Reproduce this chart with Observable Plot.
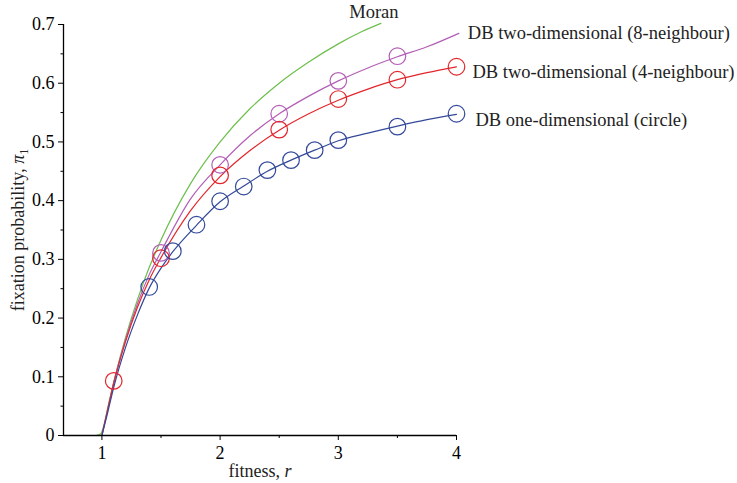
<!DOCTYPE html>
<html>
<head>
<meta charset="utf-8">
<script src="https://cdn.jsdelivr.net/npm/d3@7"></script>
<script src="https://cdn.jsdelivr.net/npm/@observablehq/plot@0.6"></script>
<style>
  html, body { margin: 0; padding: 0; background: #fff; }
</style>
</head>
<body>
<div id="chart"></div>
<script>
// ---- Data ----
const moranR   = [0.95, 0.99, 1.02, 1.05, 1.1, 1.2, 1.3, 1.4, 1.5, 1.75, 2, 2.25, 2.5, 2.75, 3, 3.2, 3.36];
const moranPi  = [0, 0.003, 0.02, 0.048, 0.091, 0.167, 0.231, 0.286, 0.333, 0.429, 0.5, 0.556, 0.6, 0.636, 0.667, 0.688, 0.702];

const db8R     = [1, 1.05, 1.1, 1.2, 1.3, 1.4, 1.5, 1.75, 2, 2.25, 2.5, 2.75, 3, 3.25, 3.5, 3.75, 4.02];
const db8Pi    = [0, 0.045, 0.09, 0.163, 0.224, 0.274, 0.313, 0.403, 0.461, 0.51, 0.548, 0.578, 0.604, 0.626, 0.645, 0.662, 0.685];

const db4R     = [1, 1.05, 1.1, 1.2, 1.3, 1.4, 1.5, 1.75, 2, 2.25, 2.5, 2.75, 3, 3.25, 3.5, 3.75, 4];
const db4Pi    = [0, 0.045, 0.089, 0.16, 0.218, 0.265, 0.303, 0.383, 0.441, 0.485, 0.52, 0.548, 0.571, 0.59, 0.606, 0.618, 0.628];

const db1R     = [1, 1.05, 1.1, 1.2, 1.3, 1.4, 1.5, 1.6, 1.8, 2, 2.2, 2.4, 2.6, 2.8, 3, 3.25, 3.5, 3.75, 4];
const db1Pi    = [0, 0.04, 0.082, 0.15, 0.205, 0.251, 0.285, 0.313, 0.358, 0.398, 0.425, 0.45, 0.469, 0.486, 0.502, 0.515, 0.527, 0.538, 0.547];

// simulation markers
const db8SimR  = [1.5, 2, 2.5, 3, 3.5];
const db8SimPi = [0.311, 0.461, 0.548, 0.604, 0.646];
const db4SimR  = [1.1, 1.5, 2, 2.5, 3, 3.5, 4];
const db4SimPi = [0.093, 0.302, 0.443, 0.521, 0.573, 0.606, 0.628];
const db1SimR  = [1.4, 1.6, 1.8, 2, 2.2, 2.4, 2.6, 2.8, 3, 3.5, 4];
const db1SimPi = [0.253, 0.314, 0.359, 0.399, 0.424, 0.452, 0.469, 0.486, 0.503, 0.526, 0.548];

const seriesNames = ["Moran", "DB two-dimensional (8-neighbour)", "DB two-dimensional (4-neighbour)", "DB one-dimensional (circle)"];

const xMajorTicks  = [1, 2, 3, 4];
const xMajorLabels = ["1", "2", "3", "4"];
const xMinorTicks  = [1.5, 2.5, 3.5];
const yMajorTicks  = [0, 0.1, 0.2, 0.3, 0.4, 0.5, 0.6, 0.7];
const yMajorLabels = ["0", "0.1", "0.2", "0.3", "0.4", "0.5", "0.6", "0.7"];
const yMinorTicks  = [0.05, 0.15, 0.25, 0.35, 0.45, 0.55, 0.65];
const xTitle = "fitness, r";
const yTitle = "fixation probability, π1";

// ---- Build tables ----
const zip = (rs, ps) => rs.map((r, i) => ({r, p: ps[i]}));
const colors = ["#6cbf4c", "#b35eb6", "#e3262b", "#33499a"];
const lines = [zip(moranR, moranPi), zip(db8R, db8Pi), zip(db4R, db4Pi), zip(db1R, db1Pi)];
const sims = [null, zip(db8SimR, db8SimPi), zip(db4SimR, db4SimPi), zip(db1SimR, db1SimPi)];

// label placement relative to each line's end point (pixels)
const labelOffsets = [
  {dx: -7, dy: -11, anchor: "middle"},
  {dx: 9, dy: 0, anchor: "start"},
  {dx: 16, dy: 5, anchor: "start"},
  {dx: 19, dy: 6, anchor: "start"}
];

const marks = [];
lines.forEach((L, i) => {
  marks.push(Plot.line(L, {x: "r", y: "p", stroke: colors[i], strokeWidth: 1.2, curve: "monotone-x"}));
});
sims.forEach((S, i) => {
  if (S) marks.push(Plot.dot(S, {x: "r", y: "p", r: 8.3, stroke: colors[i], strokeWidth: 1.2, fill: "none"}));
});
lines.forEach((L, i) => {
  const end = L[L.length - 1];
  const o = labelOffsets[i];
  marks.push(Plot.text([end], {x: "r", y: "p", text: () => seriesNames[i], textAnchor: o.anchor,
    dx: o.dx, dy: o.dy, fontSize: 18.5, fill: "#222"}));
});

// axes
marks.push(Plot.ruleY([0], {stroke: "#000", strokeWidth: 1.3}));
marks.push(Plot.ruleX([0.675], {stroke: "#000", strokeWidth: 1.3}));
marks.push(Plot.axisX(xMajorTicks, {tickSize: 5, tickPadding: 6, tickFormat: d => xMajorLabels[xMajorTicks.indexOf(d)], label: null, fontSize: 18}));
marks.push(Plot.axisX(xMinorTicks, {tickSize: 3, tickFormat: () => "", label: null}));
marks.push(Plot.axisY(yMajorTicks, {tickSize: 5, tickPadding: 4, tickFormat: d => yMajorLabels[yMajorTicks.indexOf(d)], label: null, fontSize: 18}));
marks.push(Plot.axisY(yMinorTicks, {tickSize: 2.5, tickFormat: () => "", label: null}));
marks.push(Plot.text([xTitle], {text: d => d, frameAnchor: "bottom", textAnchor: "middle", dy: 41, fontSize: 18, fill: "#222"}));
marks.push(Plot.text([yTitle], {text: d => d, frameAnchor: "left", textAnchor: "middle", rotate: -90, dx: -40, lineAnchor: "bottom", fontSize: 18, fill: "#222"}));

const chart = Plot.plot({
  width: 737,
  height: 483,
  marginLeft: 63,
  marginRight: 281,
  marginTop: 24,
  marginBottom: 48,
  x: {domain: [0.675, 4]},
  y: {domain: [0, 0.7]},
  style: {fontFamily: "'Liberation Serif', 'Times New Roman', serif", fontSize: "18px", color: "#000", background: "#fff", overflow: "visible"},
  marks
});

// italic variable / subscript in axis titles
d3.select(chart).selectAll("text").each(function() {
  const t = d3.select(this);
  const txt = this.textContent;
  if (txt === xTitle) {
    t.text("");
    t.append("tspan").text("fitness, ");
    t.append("tspan").attr("font-style", "italic").text("r");
  } else if (txt === yTitle) {
    t.text("");
    t.append("tspan").text("fixation probability, ");
    t.append("tspan").attr("font-style", "italic").text("π");
    t.append("tspan").attr("font-size", "12px").attr("dy", "4").text("1");
  }
});

document.getElementById("chart").appendChild(chart);
</script>
</body>
</html>
